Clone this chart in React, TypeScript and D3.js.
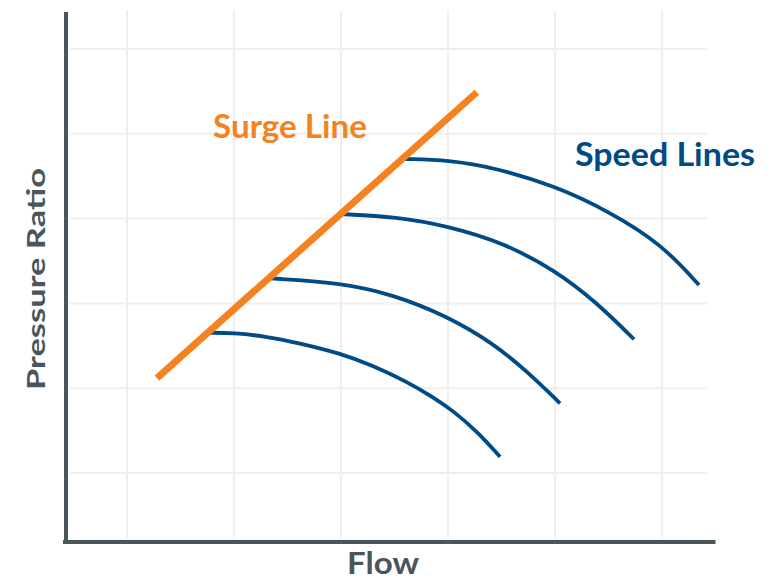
import React from "react";
import * as d3 from "d3";

// ---- data (arbitrary units: grid lines at 1..6 on both axes) ----
const gridX = [1, 2, 3, 4, 5, 6];
const gridY = [1, 2, 3, 4, 5, 6];

const surgeFlow = [1.28, 4.27];
const surgePR = [2.12, 5.49];

const speed1Flow = [1.776, 1.991, 2.308, 2.617, 2.991, 3.299, 3.617, 3.86, 4.047, 4.271, 4.486];
const speed1PR = [2.654, 2.652, 2.61, 2.53, 2.412, 2.266, 2.077, 1.895, 1.735, 1.49, 1.192];

const speed2Flow = [2.336, 2.991, 3.486, 3.991, 4.421, 4.738, 5.047];
const speed2PR = [3.296, 3.245, 3.105, 2.85, 2.53, 2.2, 1.822];

const speed3Flow = [2.991, 3.521, 4.003, 4.517, 5.003, 5.39, 5.738];
const speed3PR = [4.054, 4.02, 3.91, 3.715, 3.39, 3.01, 2.577];

const speed4Flow = [3.598, 4.003, 4.439, 5.0, 5.498, 5.997, 6.346];
const speed4PR = [4.703, 4.69, 4.6, 4.385, 4.09, 3.7, 3.217];

const speedFlows = [speed1Flow, speed2Flow, speed3Flow, speed4Flow];
const speedPRs = [speed1PR, speed2PR, speed3PR, speed4PR];

const xLabel = "Flow";
const yLabel = "Pressure Ratio";
const surgeLabel = "Surge Line";
const speedLabel = "Speed Lines";

// ---- layout ----
const W = 774;
const H = 580;
const xAxisExtent = [0.43, 6.5];
const yAxisExtent = [0.186, 6.436];
const vGridExtent = [0.233, 6.46];
const hGridExtent = [0.467, 6.42];

const ORANGE = "#f58220";
const BLUE = "#004a85";
const AXIS = "#4b555c";
const GRID = "#efefef";
const FONT = "Lato, 'Open Sans', sans-serif";

export default function App() {
  const x = d3.scaleLinear().domain([1, 6]).range([127, 662]);
  const y = d3.scaleLinear().domain([1, 6]).range([473, 49]);

  const line = d3
    .line<[number, number]>()
    .x((d) => x(d[0]))
    .y((d) => y(d[1]))
    .curve(d3.curveBasis);

  const straight = d3
    .line<[number, number]>()
    .x((d) => x(d[0]))
    .y((d) => y(d[1]));

  const speedPaths = speedFlows.map((fl, i) =>
    line(fl.map((f, j) => [f, speedPRs[i][j]] as [number, number]))
  );
  const surgePath = straight(surgeFlow.map((f, j) => [f, surgePR[j]] as [number, number]));

  return (
    <svg
      width={W}
      height={H}
      style={{ position: "absolute", left: 0, top: 0, background: "#fff" }}
    >
      {/* grid */}
      {gridX.map((g) => (
        <line
          key={"vx" + g}
          x1={x(g)}
          x2={x(g)}
          y1={y(vGridExtent[0])}
          y2={y(vGridExtent[1])}
          stroke={GRID}
          strokeWidth={2}
        />
      ))}
      {gridY.map((g) => (
        <line
          key={"hy" + g}
          x1={x(hGridExtent[0])}
          x2={x(hGridExtent[1])}
          y1={y(g)}
          y2={y(g)}
          stroke={GRID}
          strokeWidth={2}
        />
      ))}

      {/* axes */}
      <line
        x1={x(xAxisExtent[0])}
        x2={x(xAxisExtent[0])}
        y1={y(yAxisExtent[1])}
        y2={y(yAxisExtent[0]) + 2}
        stroke={AXIS}
        strokeWidth={4}
      />
      <line
        x1={x(xAxisExtent[0]) - 3}
        x2={x(xAxisExtent[1])}
        y1={y(yAxisExtent[0])}
        y2={y(yAxisExtent[0])}
        stroke={AXIS}
        strokeWidth={4}
      />

      {/* speed lines */}
      {speedPaths.map((p, i) => (
        <path key={"s" + i} d={p || ""} fill="none" stroke={BLUE} strokeWidth={3.8} />
      ))}

      {/* surge line */}
      <path d={surgePath || ""} fill="none" stroke={ORANGE} strokeWidth={7} />

      {/* labels */}
      <text
        x={213}
        y={138}
        fontFamily={FONT}
        fontWeight={700}
        fontSize={31.5}
        fill={ORANGE}
        textLength={154}
        lengthAdjust="spacingAndGlyphs"
      >
        {surgeLabel}
      </text>
      <text
        x={575}
        y={166}
        fontFamily={FONT}
        fontWeight={700}
        fontSize={31.5}
        fill={BLUE}
        textLength={180}
        lengthAdjust="spacingAndGlyphs"
      >
        {speedLabel}
      </text>
      <text
        x={383}
        y={574}
        textAnchor="middle"
        fontFamily={FONT}
        fontWeight={700}
        fontSize={30}
        fill={AXIS}
        textLength={72}
        lengthAdjust="spacingAndGlyphs"
      >
        {xLabel}
      </text>
      <text
        transform="translate(45,279) rotate(-90)"
        textAnchor="middle"
        fontFamily={FONT}
        fontWeight={700}
        fontSize={25}
        fill={AXIS}
        textLength={222}
        lengthAdjust="spacingAndGlyphs"
      >
        {yLabel}
      </text>
    </svg>
  );
}
